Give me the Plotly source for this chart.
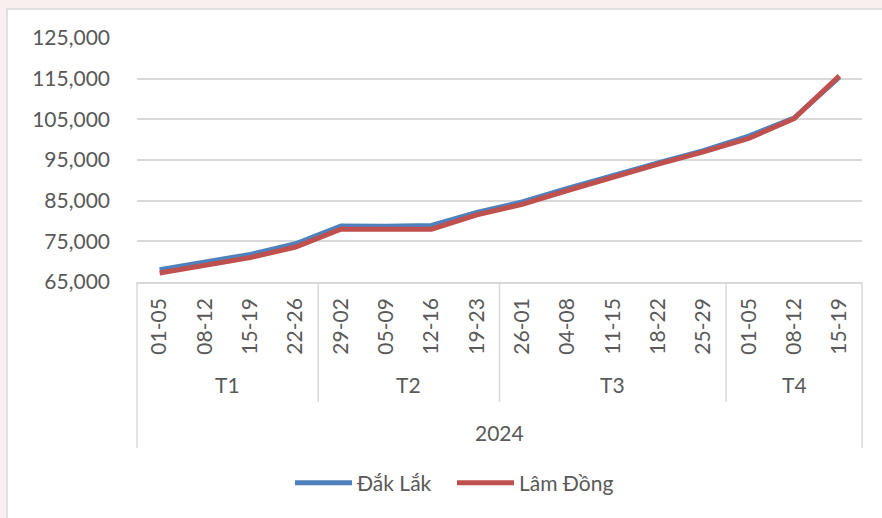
import plotly.graph_objects as go

# ---------------- data ----------------
dates = ["01-05", "08-12", "15-19", "22-26",
         "29-02", "05-09", "12-16", "19-23",
         "26-01", "04-08", "11-15", "18-22", "25-29",
         "01-05", "08-12", "15-19"]
month_labels = ["T1", "T2", "T3", "T4"]
month_sizes = [4, 4, 5, 3]
year_label = "2024"

dak_lak = [68000, 69900, 71800, 74400, 78800, 78700, 78900, 82100,
           84700, 88000, 91300, 94300, 97300, 100900, 105300, 115400]
lam_dong = [67200, 69100, 71000, 73600, 78000, 78000, 78000, 81500,
            84100, 87500, 90800, 94000, 97000, 100300, 105200, 115700]

y_ticks = [65000, 75000, 85000, 95000, 105000, 115000, 125000]

# ---------------- layout geometry ----------------
W, H = 882, 518
L, R, T, B = 137, 20, 38, 236
PW, PH = W - L - R, H - T - B

def px_x(px):
    return (px - L) / PW

def px_y(py):
    return (H - B - py) / PH

FONT = "Lato"
TXT = "#595959"
GRID = "#d9d9d9"

n = len(dates)
xs = list(range(n))

fig = go.Figure()
fig.add_trace(go.Scatter(x=xs, y=dak_lak, name="Đắk Lắk", mode="lines",
                         line=dict(color="#4f81bd", width=5, shape="linear")))
fig.add_trace(go.Scatter(x=xs, y=lam_dong, name="Lâm Đồng", mode="lines",
                         line=dict(color="#c0504d", width=5, shape="linear")))

shapes = []
# background frame
shapes.append(dict(type="rect", xref="paper", yref="paper", layer="below",
                   x0=px_x(7), x1=px_x(W + 20), y0=px_y(H + 20), y1=px_y(9),
                   fillcolor="white", line=dict(color=GRID, width=1.5)))

def cat_to_paper(v):
    return (v + 0.5) / n

# multi-level axis dividers
bounds = [0]
for s in month_sizes:
    bounds.append(bounds[-1] + s)
for i, b in enumerate(bounds):
    outer = (i == 0 or i == len(bounds) - 1)
    y_end = px_y(448) if outer else px_y(402)
    xp = cat_to_paper(b - 0.5)
    shapes.append(dict(type="line", xref="paper", yref="paper",
                       x0=xp, x1=xp, y0=0, y1=y_end,
                       line=dict(color=GRID, width=1.5)))

annotations = []
for lab, a, b in zip(month_labels, bounds[:-1], bounds[1:]):
    annotations.append(dict(xref="paper", yref="paper",
                            x=cat_to_paper((a + b - 1) / 2), y=px_y(384),
                            text=lab, showarrow=False, xanchor="center", yanchor="middle",
                            font=dict(family=FONT, size=21, color=TXT)))
annotations.append(dict(xref="paper", yref="paper",
                        x=cat_to_paper((n - 1) / 2), y=px_y(433),
                        text=year_label, showarrow=False, xanchor="center", yanchor="middle",
                        font=dict(family=FONT, size=21, color=TXT)))

fig.update_layout(
    width=W, height=H,
    margin=dict(l=L, r=R, t=T, b=B, autoexpand=False),
    paper_bgcolor="#f9efee",
    plot_bgcolor="white",
    font=dict(family=FONT, size=21, color=TXT),
    shapes=shapes,
    annotations=annotations,
    showlegend=True,
    legend=dict(orientation="h", x=px_x(290), y=px_y(483), xanchor="left", yanchor="middle",
                font=dict(family=FONT, size=21, color=TXT), itemwidth=57,
                entrywidth=90, entrywidthmode="pixels",
                bgcolor="rgba(0,0,0,0)", tracegroupgap=0),
    xaxis=dict(range=[-0.5, n - 0.5], tickmode="array", tickvals=xs, ticktext=dates,
               tickangle=-90, showgrid=False, zeroline=False, showline=True,
               linecolor=GRID, linewidth=1.5, ticks="", ticklabelstandoff=6,
               tickfont=dict(family=FONT, size=21, color=TXT), fixedrange=True),
    yaxis=dict(range=[65000, 125000], tickmode="array", tickvals=y_ticks,
               tickformat=",", showgrid=True, gridcolor=GRID, gridwidth=1.5,
               zeroline=False, showline=False, ticks="", ticklabelstandoff=26,
               tickfont=dict(family=FONT, size=21, color=TXT), fixedrange=True),
)

fig.write_html("out.html", config={"displayModeBar": False},
               post_script="document.body.style.margin='0';document.body.style.padding='0';")
